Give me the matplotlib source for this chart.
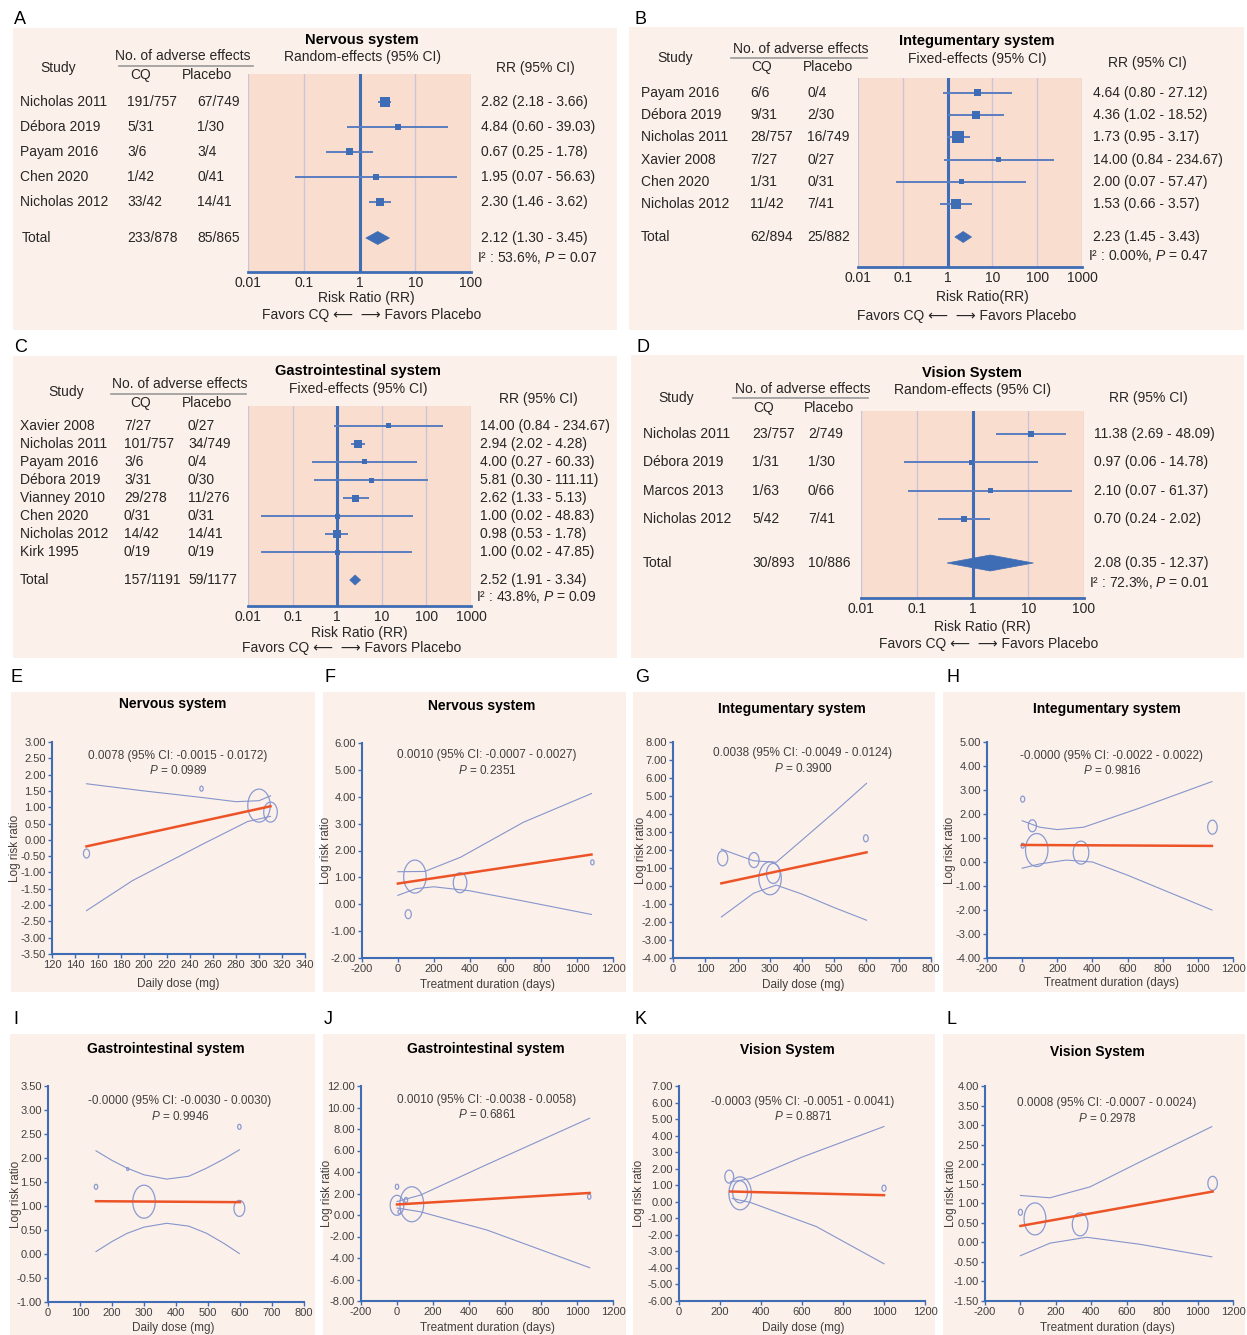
import numpy as np
import matplotlib.pyplot as plt
from matplotlib.path import Path
from matplotlib.patches import Rectangle, Polygon
from matplotlib.ticker import NullLocator

plt.rcParams['font.family'] = ['Liberation Sans', 'DejaVu Sans']
plt.rcParams['mathtext.fontset'] = 'custom'
plt.rcParams['mathtext.rm'] = 'Liberation Sans'
plt.rcParams['mathtext.it'] = 'Liberation Sans:italic'

W, H = 1247, 1335

BOX = '#FCF0EA'
AREA = '#F9DDCE'
BLUE = '#3F6DB5'
LINE = '#5A7EC0'
GRID = '#C9C3DC'
RED = '#EC5428'
CIC = '#8595CC'
BUB = '#8A9AD2'
TXT = '#262626'

# ---------------- forest plot data ----------------
A_study = ['Nicholas 2011', 'Débora 2019', 'Payam 2016', 'Chen 2020', 'Nicholas 2012']
A_cq = ['191/757', '5/31', '3/6', '1/42', '33/42']
A_pl = ['67/749', '1/30', '3/4', '0/41', '14/41']
A_rr = [2.82, 4.84, 0.67, 1.95, 2.30]
A_lo = [2.18, 0.60, 0.25, 0.07, 1.46]
A_hi = [3.66, 39.03, 1.78, 56.63, 3.62]
A_wt = [10, 6, 7, 6, 8]
A_total = ['233/878', '85/865', 2.12, 1.30, 3.45]
A_het = ['53.6%', '0.07']

B_study = ['Payam 2016', 'Débora 2019', 'Nicholas 2011', 'Xavier 2008', 'Chen 2020', 'Nicholas 2012']
B_cq = ['6/6', '9/31', '28/757', '7/27', '1/31', '11/42']
B_pl = ['0/4', '2/30', '16/749', '0/27', '0/31', '7/41']
B_rr = [4.64, 4.36, 1.73, 14.00, 2.00, 1.53]
B_lo = [0.80, 1.02, 0.95, 0.84, 0.07, 0.66]
B_hi = [27.12, 18.52, 3.17, 234.67, 57.47, 3.57]
B_wt = [7, 8, 12, 5, 5, 10]
B_total = ['62/894', '25/882', 2.23, 1.45, 3.43]
B_het = ['0.00%', '0.47']

C_study = ['Xavier 2008', 'Nicholas 2011', 'Payam 2016', 'Débora 2019', 'Vianney 2010',
           'Chen 2020', 'Nicholas 2012', 'Kirk 1995']
C_cq = ['7/27', '101/757', '3/6', '3/31', '29/278', '0/31', '14/42', '0/19']
C_pl = ['0/27', '34/749', '0/4', '0/30', '11/276', '0/31', '14/41', '0/19']
C_rr = [14.00, 2.94, 4.00, 5.81, 2.62, 1.00, 0.98, 1.00]
C_lo = [0.84, 2.02, 0.27, 0.30, 1.33, 0.02, 0.53, 0.02]
C_hi = [234.67, 4.28, 60.33, 111.11, 5.13, 48.83, 1.78, 47.85]
C_wt = [5, 8, 5, 5, 7, 5, 8, 5]
C_total = ['157/1191', '59/1177', 2.52, 1.91, 3.34]
C_het = ['43.8%', '0.09']

D_study = ['Nicholas 2011', 'Débora 2019', 'Marcos 2013', 'Nicholas 2012']
D_cq = ['23/757', '1/31', '1/63', '5/42']
D_pl = ['2/749', '1/30', '0/66', '7/41']
D_rr = [11.38, 0.97, 2.10, 0.70]
D_lo = [2.69, 0.06, 0.07, 0.24]
D_hi = [48.09, 14.78, 61.37, 2.02]
D_wt = [6, 5, 5, 6]
D_total = ['30/893', '10/886', 2.08, 0.35, 12.37]
D_het = ['72.3%', '0.01']

# ---------------- meta-regression data ----------------
E_x = [150, 250, 300, 310]
E_y = [-0.42, 1.57, 1.05, 0.85]
E_w = [9, 5, 33, 20]
E_fit_x = [150, 310]
E_fit_y = [-0.20, 1.03]
E_up_x = [150, 200, 250, 280, 300, 310]
E_up_y = [1.72, 1.50, 1.30, 1.17, 1.20, 1.35]
E_lo_x = [150, 190, 250, 290, 310]
E_lo_y = [-2.17, -1.25, -0.15, 0.56, 0.72]
E_stat = ['0.0078 (95% CI: -0.0015 - 0.0172)', '0.0989']

F_x = [58, 95, 347, 1085]
F_y = [-0.37, 1.03, 0.80, 1.56]
F_w = [9, 33, 20, 5]
F_fit_x = [0, 1080]
F_fit_y = [0.77, 1.85]
F_up_x = [0, 150, 350, 700, 1080]
F_up_y = [1.21, 1.22, 1.75, 3.05, 4.12]
F_lo_x = [0, 100, 200, 400, 700, 1080]
F_lo_y = [0.33, 0.58, 0.65, 0.50, 0.12, -0.38]
F_stat = ['0.0010 (95% CI: -0.0007 - 0.0027)', '0.2351']

G_x = [154, 251, 301, 311, 598]
G_y = [1.54, 1.44, 0.43, 0.70, 2.65]
G_w = [15, 15, 33, 20, 7]
G_fit_x = [150, 600]
G_fit_y = [0.15, 1.87]
G_up_x = [150, 250, 320, 400, 500, 600]
G_up_y = [2.05, 1.40, 1.32, 2.55, 4.10, 5.70]
G_lo_x = [150, 250, 320, 400, 500, 600]
G_lo_y = [-1.72, -0.40, 0.05, -0.45, -1.20, -1.90]
G_stat = ['0.0038 (95% CI: -0.0049 - 0.0124)', '0.3900']

H_x = [3, 58, 83, 335, 1083, 3]
H_y = [2.62, 1.51, 0.50, 0.39, 1.45, 0.68]
H_w = [6, 12, 33, 23, 14, 5]
H_fit_x = [0, 1080]
H_fit_y = [0.71, 0.67]
H_up_x = [0, 100, 200, 350, 650, 1080]
H_up_y = [1.72, 1.45, 1.35, 1.45, 2.20, 3.35]
H_lo_x = [0, 100, 250, 400, 600, 1080]
H_lo_y = [-0.26, -0.08, 0.08, 0.00, -0.55, -2.00]
H_stat = ['-0.0000 (95% CI: -0.0022 - 0.0022)', '0.9816']

I_x = [150, 249, 300, 598, 598]
I_y = [1.40, 1.77, 1.09, 0.95, 2.65]
I_w = [5, 3, 33, 16, 5]
I_fit_x = [150, 600]
I_fit_y = [1.10, 1.08]
I_up_x = [150, 200, 247, 300, 371, 440, 496, 550, 598]
I_up_y = [2.15, 1.95, 1.79, 1.65, 1.56, 1.62, 1.79, 1.98, 2.17]
I_lo_x = [150, 200, 247, 300, 371, 440, 496, 550, 598]
I_lo_y = [0.05, 0.26, 0.43, 0.56, 0.64, 0.58, 0.43, 0.22, 0.01]
I_stat = ['-0.0000 (95% CI: -0.0030 - 0.0030)', '0.9946']

J_x = [0, 0, 82, 50, 13, 1068]
J_y = [2.63, 0.90, 1.00, 1.40, 0.30, 1.70]
J_w = [5, 20, 35, 5, 4, 5]
J_fit_x = [0, 1070]
J_fit_y = [0.98, 2.05]
J_up_x = [0, 130, 500, 1070]
J_up_y = [1.25, 1.85, 4.70, 9.00]
J_lo_x = [0, 130, 500, 1070]
J_lo_y = [0.65, 0.30, -1.40, -4.90]
J_stat = ['0.0010 (95% CI: -0.0038 - 0.0058)', '0.6861']

K_x = [245, 298, 298, 1000]
K_y = [1.52, 0.51, 0.60, 0.82]
K_w = [13, 33, 22, 6]
K_fit_x = [250, 1000]
K_fit_y = [0.62, 0.40]
K_up_x = [250, 350, 600, 1000]
K_up_y = [1.20, 1.40, 2.70, 4.55]
K_lo_x = [260, 350, 670, 1000]
K_lo_y = [0.20, -0.05, -1.50, -3.75]
K_stat = ['-0.0003 (95% CI: -0.0051 - 0.0041)', '0.8871']

L_x = [0, 82, 337, 1085]
L_y = [0.77, 0.60, 0.46, 1.51]
L_w = [6, 32, 23, 14]
L_fit_x = [0, 1085]
L_fit_y = [0.42, 1.30]
L_up_x = [0, 167, 393, 676, 1080]
L_up_y = [1.20, 1.14, 1.42, 2.06, 2.96]
L_lo_x = [0, 167, 374, 676, 1080]
L_lo_y = [-0.34, -0.02, 0.13, -0.05, -0.37]
L_stat = ['0.0008 (95% CI: -0.0007 - 0.0024)', '0.2978']


fig = plt.figure(figsize=(W / 100, H / 100), dpi=100)
bg = fig.add_axes([0, 0, 1, 1])
bg.set_xlim(0, W)
bg.set_ylim(H, 0)
bg.axis('off')


def px_axes(x0, y0, x1, y1):
    return fig.add_axes([x0 / W, 1 - y1 / H, (x1 - x0) / W, (y1 - y0) / H])


def txt(x, y, s, **kw):
    kw.setdefault('fontsize', 10)
    kw.setdefault('va', 'center')
    kw.setdefault('color', TXT)
    bg.text(x, y, s, **kw)


def forest(cfg, study, cq, pl, rr, lo, hi, wt, total, het):
    x0, y0, x1, y1 = cfg['box']
    bg.add_patch(Rectangle((x0, y0), x1 - x0, y1 - y0, fc=BOX, ec='none'))
    a0, b0, a1, b1 = cfg['area']
    ax = px_axes(a0, b0, a1, b1)
    ax.set_facecolor(AREA)
    ax.set_xscale('log')
    ax.set_xlim(0.01, cfg['xmax'])
    ax.set_ylim(b1, b0)
    decades = [10.0 ** k for k in range(-2, int(round(np.log10(cfg['xmax']))) + 1)]
    for d in decades:
        ax.axvline(d, color=GRID, lw=0.9, zorder=1)
    ax.axvline(1, color=BLUE, lw=2.2, zorder=2)
    ys = cfg['row0'] + cfg['step'] * np.arange(len(study))
    ax.hlines(ys, lo, hi, color=LINE, lw=1.4, zorder=3)
    ax.scatter(rr, ys, marker='s', s=(np.array(wt) * 0.72) ** 2, color=BLUE,
               linewidths=0, zorder=4)
    ty = cfg['total_y']
    h = cfg['diamond'] / 2
    ax.add_patch(Polygon([(total[3], ty), (total[2], ty - h), (total[4], ty), (total[2], ty + h)],
                         closed=True, fc=BLUE, ec=BLUE, lw=0.5, zorder=4))
    ax.set_xticks(decades)
    ax.set_xticklabels([f'{d:g}' for d in decades])
    ax.xaxis.set_minor_locator(NullLocator())
    ax.set_yticks([])
    for s in ['top', 'right', 'left']:
        ax.spines[s].set_visible(False)
    ax.spines['bottom'].set_color(BLUE)
    ax.spines['bottom'].set_linewidth(2)
    ax.tick_params(axis='x', length=0, pad=3, labelsize=10, labelcolor=TXT)

    # headers
    lt, lx, ly = cfg['letter']
    txt(lx, ly, lt, fontsize=13, ha='left', color='black')
    t, tx, tyy = cfg['title']
    txt(tx, tyy, t, ha='center', fontweight='bold', fontsize=10.5, color='black')
    t, tx, tyy = cfg['sub']
    txt(tx, tyy, t, ha='center')
    txt(*cfg['study_h'], 'Study', ha='center')
    txt(*cfg['adv'], 'No. of adverse effects', ha='center')
    u0, u1, uy = cfg['uline']
    bg.plot([u0, u1], [uy, uy], color='#9A9A9A', lw=1.2)
    txt(*cfg['cq_h'], 'CQ', ha='center')
    txt(*cfg['pl_h'], 'Placebo', ha='center')
    txt(*cfg['rr_h'], 'RR (95% CI)', ha='center')

    c0, c1, c2, c3 = cfg['cols']
    for i in range(len(study)):
        txt(c0, ys[i], study[i])
        txt(c1, ys[i], cq[i])
        txt(c2, ys[i], pl[i])
        txt(c3, ys[i], f'{rr[i]:.2f} ({lo[i]:.2f} - {hi[i]:.2f})')
    txt(cfg['total_x'], ty, 'Total')
    txt(c1, ty, total[0])
    txt(c2, ty, total[1])
    txt(c3, ty, f'{total[2]:.2f} ({total[3]:.2f} - {total[4]:.2f})')
    txt(cfg['het_x'], cfg['het_y'], f'I\u00b2 : {het[0]}, $\\mathit{{P}}$ = {het[1]}')
    txt(*cfg['rrlab'], cfg.get('rrtext', 'Risk Ratio (RR)'), ha='center')
    txt(*cfg['fav'], 'Favors CQ \u27f5  \u27f6 Favors Placebo', ha='center')


A_cfg = dict(box=(13, 28, 617, 330), area=(248, 74, 471, 272), xmax=100, row0=101.7, step=25.0,
             total_y=238, het_y=258, diamond=13, cols=(20, 127, 197, 481), total_x=22,
             title=('Nervous system', 362, 40), sub=('Random-effects (95% CI)', 362, 57),
             study_h=(58, 68), adv=(183, 56), uline=(119, 253, 66), cq_h=(141, 75),
             pl_h=(207, 75), rr_h=(535, 68), het_x=477, rrlab=(366, 298), fav=(372, 315),
             letter=('A', 14, 19))
B_cfg = dict(box=(629, 27, 1244, 330), area=(858, 78, 1082, 267), xmax=1000, row0=92.7, step=22.3,
             total_y=237, het_y=256, diamond=11, cols=(641, 750, 807, 1093), total_x=641,
             title=('Integumentary system', 977, 41), sub=('Fixed-effects (95% CI)', 977, 59),
             study_h=(675, 58), adv=(801, 49), uline=(731, 867, 58), cq_h=(762, 67),
             pl_h=(828, 67), rr_h=(1147, 63), het_x=1088, rrlab=(982, 297), fav=(967, 316),
             letter=('B', 634, 19), rrtext='Risk Ratio(RR)')
C_cfg = dict(box=(13, 356, 617, 658), area=(248, 406, 471, 606), xmax=1000, row0=425.7, step=18.1,
             total_y=580, het_y=597, diamond=10, cols=(20, 124, 188, 480), total_x=20,
             title=('Gastrointestinal system', 358, 371), sub=('Fixed-effects (95% CI)', 358, 389),
             study_h=(66, 392), adv=(180, 384), uline=(111, 246, 394), cq_h=(141, 403),
             pl_h=(207, 403), rr_h=(538, 399), het_x=476, rrlab=(359, 633), fav=(352, 648),
             letter=('C', 14, 347))
D_cfg = dict(box=(631, 355, 1244, 658), area=(861, 411, 1084, 598), xmax=100, row0=434, step=28.4,
             total_y=563, het_y=583, diamond=16, cols=(643, 752, 808, 1094), total_x=643,
             title=('Vision System', 972, 373), sub=('Random-effects (95% CI)', 972, 390),
             study_h=(676, 398), adv=(803, 389), uline=(733, 868, 398), cq_h=(764, 408),
             pl_h=(829, 408), rr_h=(1148, 398), het_x=1089, rrlab=(982, 627), fav=(989, 644),
             letter=('D', 636, 347))

forest(A_cfg, A_study, A_cq, A_pl, A_rr, A_lo, A_hi, A_wt, A_total, A_het)
forest(B_cfg, B_study, B_cq, B_pl, B_rr, B_lo, B_hi, B_wt, B_total, B_het)
forest(C_cfg, C_study, C_cq, C_pl, C_rr, C_lo, C_hi, C_wt, C_total, C_het)
forest(D_cfg, D_study, D_cq, D_pl, D_rr, D_lo, D_hi, D_wt, D_total, D_het)

# ellipse-shaped bubble marker (taller than wide, as in the original)
_t = np.linspace(0, 2 * np.pi, 64)
ELL = Path(np.column_stack([0.68 * np.cos(_t), np.sin(_t)]), closed=True)


def metareg(cfg, x, y, w, fit_x, fit_y, up_x, up_y, lo_x, lo_y, stat):
    x0, y0, x1, y1 = cfg['box']
    bg.add_patch(Rectangle((x0, y0), x1 - x0, y1 - y0, fc=BOX, ec='none'))
    a0, b0, a1, b1 = cfg['area']
    ax = px_axes(a0, b0, a1, b1)
    ax.set_facecolor('none')
    ax.plot(up_x, up_y, color=CIC, lw=0.8)
    ax.plot(lo_x, lo_y, color=CIC, lw=0.8)
    ax.scatter(x, y, s=(np.array(w) * 0.72) ** 2, marker=ELL, facecolors='none',
               edgecolors=BUB, linewidths=0.9, clip_on=False)
    ax.plot(fit_x, fit_y, color=RED, lw=1.8)
    xt = cfg['xticks']
    yt = cfg['yticks']
    ax.set_xlim(xt[0], xt[-1])
    ax.set_ylim(yt[0], yt[-1])
    ax.set_xticks(xt)
    ax.set_xticklabels([f'{v:g}' for v in xt])
    ax.set_yticks(yt)
    ax.set_yticklabels([f'{v:.2f}' for v in yt])
    for s in ['top', 'right']:
        ax.spines[s].set_visible(False)
    for s in ['left', 'bottom']:
        ax.spines[s].set_color(BLUE)
        ax.spines[s].set_linewidth(1.5)
    ax.tick_params(length=3, width=1, color=BLUE, pad=1.5, labelsize=8, labelcolor='#404040')

    lt, lx, ly = cfg['letter']
    txt(lx, ly, lt, fontsize=13, ha='left', color='black')
    t, tx, tyy = cfg['title']
    txt(tx, tyy, t, ha='center', fontweight='bold', fontsize=10, color='black')
    ax_, ay_ = cfg['ann']
    txt(ax_, ay_, stat[0], ha='center', fontsize=8.5, color='#404040')
    txt(ax_, ay_ + 15, f'$\\mathit{{P}}$ = {stat[1]}', ha='center', fontsize=8.5, color='#404040')
    txt(cfg['ylab_x'], (b0 + b1) / 2, 'Log risk ratio', ha='center', rotation=90,
        fontsize=8.5, color='#404040')
    t, tx, tyy = cfg['xlab']
    txt(tx, tyy, t, ha='center', fontsize=8.5, color='#404040')


E_cfg = dict(letter=('E', 11, 678), box=(11, 692, 315, 992), area=(52, 742, 305, 954),
             xticks=np.arange(120, 341, 20), yticks=np.arange(-3.5, 3.01, 0.5),
             title=('Nervous system', 173, 704), ann=(178, 756), ylab_x=15,
             xlab=('Daily dose (mg)', 178, 984))
F_cfg = dict(letter=('F', 324, 678), box=(323, 692, 626, 992), area=(362, 743, 613, 958),
             xticks=np.arange(-200, 1201, 200), yticks=np.arange(-2, 6.01, 1),
             title=('Nervous system', 482, 706), ann=(487, 755), ylab_x=326,
             xlab=('Treatment duration (days)', 487, 985))
G_cfg = dict(letter=('G', 635, 678), box=(633, 692, 935, 992), area=(673, 742, 931, 958),
             xticks=np.arange(0, 801, 100), yticks=np.arange(-4, 8.01, 1),
             title=('Integumentary system', 792, 709), ann=(803, 753), ylab_x=641,
             xlab=('Daily dose (mg)', 803, 985))
H_cfg = dict(letter=('H', 946, 678), box=(943, 692, 1245, 992), area=(987, 742, 1233, 958),
             xticks=np.arange(-200, 1201, 200), yticks=np.arange(-4, 5.01, 1),
             title=('Integumentary system', 1107, 709), ann=(1112, 756), ylab_x=950,
             xlab=('Treatment duration (days)', 1111, 983))
I_cfg = dict(letter=('I', 13, 1020), box=(10, 1034, 315, 1335), area=(48, 1086, 304, 1302),
             xticks=np.arange(0, 801, 100), yticks=np.arange(-1, 3.51, 0.5),
             title=('Gastrointestinal system', 166, 1049), ann=(180, 1101), ylab_x=16,
             xlab=('Daily dose (mg)', 173, 1328))
J_cfg = dict(letter=('J', 324, 1020), box=(323, 1034, 626, 1335), area=(361, 1086, 613, 1301),
             xticks=np.arange(-200, 1201, 200), yticks=np.arange(-8, 12.01, 2),
             title=('Gastrointestinal system', 486, 1049), ann=(487, 1100), ylab_x=327,
             xlab=('Treatment duration (days)', 487, 1328))
K_cfg = dict(letter=('K', 635, 1020), box=(633, 1034, 935, 1335), area=(679, 1086, 925, 1301),
             xticks=np.arange(0, 1201, 200), yticks=np.arange(-6, 7.01, 1),
             title=('Vision System', 787, 1050), ann=(803, 1102), ylab_x=639,
             xlab=('Daily dose (mg)', 803, 1328))
L_cfg = dict(letter=('L', 946, 1020), box=(943, 1034, 1245, 1335), area=(985, 1086, 1233, 1301),
             xticks=np.arange(-200, 1201, 200), yticks=np.arange(-1.5, 4.01, 0.5),
             title=('Vision System', 1097, 1052), ann=(1107, 1103), ylab_x=951,
             xlab=('Treatment duration (days)', 1108, 1328))

metareg(E_cfg, E_x, E_y, E_w, E_fit_x, E_fit_y, E_up_x, E_up_y, E_lo_x, E_lo_y, E_stat)
metareg(F_cfg, F_x, F_y, F_w, F_fit_x, F_fit_y, F_up_x, F_up_y, F_lo_x, F_lo_y, F_stat)
metareg(G_cfg, G_x, G_y, G_w, G_fit_x, G_fit_y, G_up_x, G_up_y, G_lo_x, G_lo_y, G_stat)
metareg(H_cfg, H_x, H_y, H_w, H_fit_x, H_fit_y, H_up_x, H_up_y, H_lo_x, H_lo_y, H_stat)
metareg(I_cfg, I_x, I_y, I_w, I_fit_x, I_fit_y, I_up_x, I_up_y, I_lo_x, I_lo_y, I_stat)
metareg(J_cfg, J_x, J_y, J_w, J_fit_x, J_fit_y, J_up_x, J_up_y, J_lo_x, J_lo_y, J_stat)
metareg(K_cfg, K_x, K_y, K_w, K_fit_x, K_fit_y, K_up_x, K_up_y, K_lo_x, K_lo_y, K_stat)
metareg(L_cfg, L_x, L_y, L_w, L_fit_x, L_fit_y, L_up_x, L_up_y, L_lo_x, L_lo_y, L_stat)

fig.savefig('out.png', dpi=100)
